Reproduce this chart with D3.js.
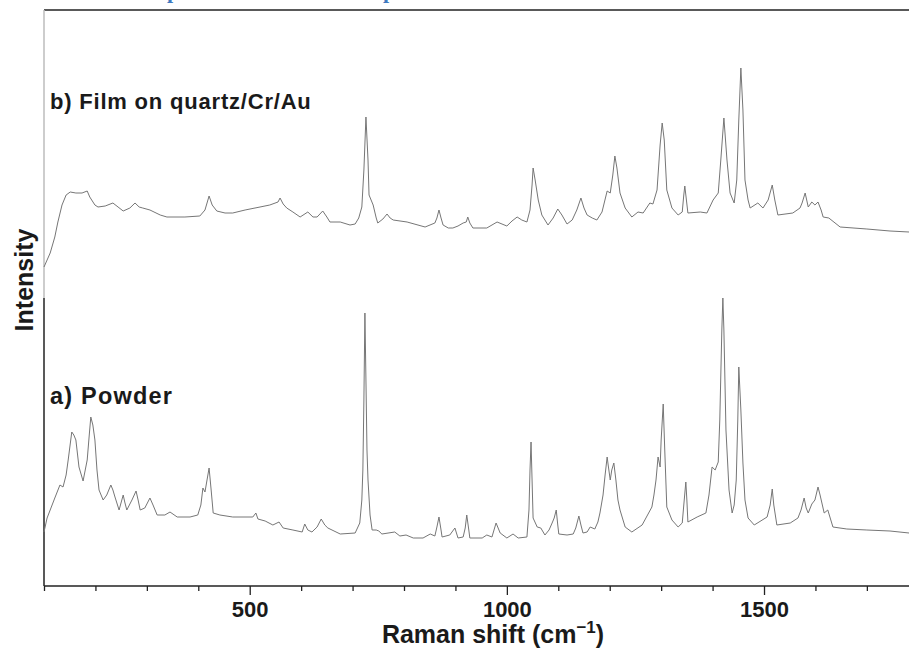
<!DOCTYPE html>
<html><head><meta charset="utf-8">
<script src="https://cdn.jsdelivr.net/npm/d3@7/dist/d3.min.js"></script>
<style>
html,body{margin:0;padding:0;background:#fff;}
svg{display:block;}
text{font-family:"Liberation Sans",Arial,sans-serif;font-weight:bold;fill:#1a1a1a;}
</style></head>
<body>
<svg id="chart" width="909" height="650"></svg>
<script>
// Raman shift (cm^-1) and intensity (arbitrary units) for b) film
const filmShift = [100,112,121,127,135,143,151,162,174,184,189,199,205,219,234,244,254,267,277,285,292,306,326,339,374,403,413,421,427,436,452,467,491,520,539,555,559,565,572,584,598,613,623,631,642,650,656,676,695,705,712,718,722,726,730,732,740,746,749,759,767,773,779,806,841,860,864,868,872,876,886,895,905,915,921,924,928,934,961,981,1000,1010,1020,1029,1039,1045,1049,1051,1055,1061,1068,1080,1090,1099,1107,1117,1127,1136,1144,1150,1156,1166,1175,1185,1195,1201,1206,1210,1214,1220,1230,1243,1255,1265,1278,1284,1292,1298,1302,1306,1311,1321,1333,1341,1344,1346,1348,1352,1376,1389,1401,1411,1416,1422,1428,1434,1442,1447,1451,1455,1459,1463,1469,1473,1488,1498,1508,1516,1521,1527,1556,1570,1574,1580,1586,1593,1599,1605,1611,1615,1626,1648,1700,1745,1782];
const filmIntensity = [319,333,349,364,381,391,394,393,393,395,389,381,379,380,383,379,375,378,383,379,378,376,371,369,369,370,376,390,381,375,373,373,376,379,381,384,388,382,378,374,369,374,369,369,375,369,364,364,361,362,368,379,416,469,426,391,381,368,363,367,372,368,366,364,359,363,368,376,368,361,358,358,360,363,364,369,363,358,358,364,360,365,369,366,364,376,401,418,406,386,371,361,368,377,371,362,366,376,388,378,371,368,366,374,395,393,411,430,418,393,378,369,374,373,383,382,396,441,463,446,396,378,371,374,391,400,391,373,374,373,386,393,426,468,426,393,383,406,466,518,476,406,386,378,383,378,386,401,386,371,373,378,383,393,379,384,381,384,376,369,368,359,357,355,354];

// Raman shift (cm^-1) and intensity (arbitrary units) for a) powder
const powderShift = [100,106,112,121,131,137,143,147,154,158,162,168,176,184,188,191,195,199,203,207,215,222,230,234,238,246,254,257,261,271,279,283,287,296,306,312,320,335,345,359,384,399,405,409,413,417,421,425,429,442,467,506,512,516,530,545,557,565,584,602,607,613,621,631,639,646,652,676,705,714,718,720,722,724,726,728,730,734,738,746,751,757,782,792,804,818,837,851,860,864,868,872,874,889,899,905,915,919,922,926,928,952,961,971,979,987,1000,1012,1022,1039,1043,1045,1047,1049,1051,1059,1066,1074,1082,1088,1092,1096,1099,1101,1117,1129,1134,1140,1144,1148,1156,1162,1171,1177,1181,1187,1191,1195,1197,1201,1204,1208,1212,1216,1220,1230,1243,1263,1282,1286,1290,1294,1298,1300,1304,1307,1311,1321,1333,1341,1344,1348,1350,1352,1370,1387,1393,1399,1405,1411,1414,1418,1420,1422,1426,1432,1438,1442,1446,1449,1451,1455,1459,1463,1469,1481,1506,1512,1516,1519,1525,1551,1566,1572,1578,1582,1586,1593,1599,1605,1609,1617,1624,1634,1661,1700,1745,1782];
const powderIntensity = [54,68,76,88,101,99,111,126,154,151,146,119,105,126,151,169,161,146,116,96,86,91,101,96,89,76,91,84,76,86,95,86,76,78,88,81,71,71,74,69,69,71,81,98,94,106,118,96,73,71,69,69,73,67,65,61,64,58,56,54,62,56,54,59,67,61,58,52,53,63,86,116,186,273,206,136,106,71,56,56,55,52,54,50,51,48,48,52,50,59,69,56,49,51,58,48,49,58,71,56,48,48,51,49,63,53,48,52,48,49,76,116,144,106,68,59,58,51,56,63,68,76,61,52,51,52,58,70,61,53,54,59,57,64,73,91,111,129,121,106,116,123,106,86,76,59,54,61,79,91,106,129,119,146,182,136,79,66,59,63,81,104,86,64,69,73,91,119,116,124,166,256,288,256,156,96,73,81,106,166,219,176,123,86,68,61,69,81,97,81,61,63,68,76,88,78,73,82,86,99,91,73,76,59,57,56,55,53];

const xTicks = [100,200,300,400,500,600,700,800,900,1000,1100,1200,1300,1400,1500,1600,1700,1800];
const xTickLabels = [500,1000,1500];
const seriesLabels = ["b) Film on quartz/Cr/Au","a) Powder"];

const svg = d3.select("#chart");
const x = d3.scaleLinear().domain([100,1800]).range([44,918.3]);
const y = d3.scaleLinear().domain([0,576]).range([586,10]);

// clipped blue heading above the frame (only descender tips visible)
svg.append("text").attr("x",167).attr("y",-2).style("font-family","'Liberation Serif',serif")
  .style("font-size","22px").style("fill","#3f7ac0").text("p");
svg.append("text").attr("x",383).attr("y",-2).style("font-family","'Liberation Serif',serif")
  .style("font-size","22px").style("fill","#3f7ac0").text("p");

// frame: top line, left line (grey upper, dark lower)
svg.append("line").attr("x1",44).attr("x2",909).attr("y1",10).attr("y2",10)
  .attr("stroke","#222").attr("stroke-width",1.5);
svg.append("line").attr("x1",44).attr("x2",44).attr("y1",10).attr("y2",298)
  .attr("stroke","#bdbdbd").attr("stroke-width",1.5);
svg.append("line").attr("x1",44).attr("x2",44).attr("y1",298).attr("y2",586)
  .attr("stroke","#222").attr("stroke-width",1.5);

// x axis
const xAxis = d3.axisBottom(x).tickValues(xTicks)
  .tickSize(0).tickFormat(d => xTickLabels.includes(d) ? d : "");
const gx = svg.append("g").attr("transform","translate(0,586)").call(xAxis);
gx.select(".domain").attr("stroke","#222").attr("stroke-width",1.5).attr("d","M44,0H909");
gx.selectAll(".tick line").attr("stroke","#222").attr("stroke-width",1.3)
  .attr("y2", d => xTickLabels.includes(d) ? 9 : 5);
gx.selectAll(".tick text").attr("y",15).attr("dy","0.71em")
  .style("font-size","22px").style("font-family","'Liberation Sans',Arial,sans-serif")
  .style("font-weight","bold").style("fill","#1a1a1a");

// axis titles
const xt = svg.append("text").attr("x",493).attr("y",643).attr("text-anchor","middle")
  .style("font-size","25px");
xt.append("tspan").text("Raman shift (cm");
xt.append("tspan").attr("dy",-10).style("font-size","17px").text("\u22121");
xt.append("tspan").attr("dy",10).text(")");

svg.append("text").attr("transform","translate(33,280) rotate(-90)").attr("text-anchor","middle")
  .style("font-size","25px").text("Intensity");

// spectra
const line = d3.line().x(d => x(d[0])).y(d => y(d[1]));
const film = d3.zip(filmShift, filmIntensity);
const powder = d3.zip(powderShift, powderIntensity);
svg.append("path").datum(film).attr("d",line).attr("fill","none")
  .attr("stroke","#767676").attr("stroke-width",1);
svg.append("path").datum(powder).attr("d",line).attr("fill","none")
  .attr("stroke","#767676").attr("stroke-width",1);

// series labels
svg.append("text").attr("x",50).attr("y",109).style("font-size","22px")
  .style("letter-spacing","0.8px").text(seriesLabels[0]);
svg.append("text").attr("x",50).attr("y",404).style("font-size","23.5px")
  .style("letter-spacing","1.2px").text(seriesLabels[1]);
</script>
</body></html>
